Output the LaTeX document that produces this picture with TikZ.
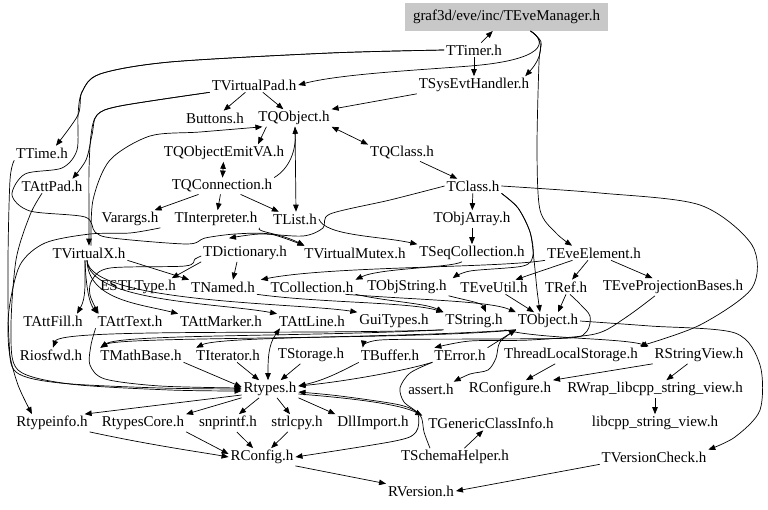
\documentclass[tikz,border=0pt]{standalone}
\usepackage{fontspec}
\setmainfont{Liberation Serif}
\usetikzlibrary{arrows.meta}
\newcommand\nodefont{\fontsize{15}{18}\selectfont}
\definecolor{rootgray}{RGB}{200,200,200}
\begin{document}
\begin{tikzpicture}[x=1pt,y=-1pt,
  n/.style={inner sep=2pt, outer sep=0pt, font=\nodefont},
  e/.style={draw, line width=0.7pt, -{Triangle[length=7pt,width=5.5pt]}},
  ee/.style={draw, line width=0.7pt, {Triangle[length=7pt,width=5.5pt]}-{Triangle[length=7pt,width=5.5pt]}}]
\fill[white] (0,0) rectangle (768,509);
\useasboundingbox (0,0) rectangle (768,509);
% nodes
\node[n, fill=rootgray, minimum width=203pt, minimum height=28pt] (root) at (506.5,17) {graf3d/eve/inc/TEveManager.h};
\coordinate (rs) at ([xshift=24pt]root.south);
\node[n] (TTimer) at (474,50) {TTimer.h};
\node[n] (TVirtualPad) at (254,85) {TVirtualPad.h};
\node[n] (TSys) at (474,85) {TSysEvtHandler.h};
\node[n] (Buttons) at (215,118) {Buttons.h};
\node[n] (TQObject) at (294,118) {TQObject.h};
\node[n] (TTime) at (42,153) {TTime.h};
\node[n] (EmitVA) at (224,153) {TQObjectEmitVA.h};
\node[n] (TQClass) at (402,153) {TQClass.h};
\node[n] (TAttPad) at (52,186) {TAttPad.h};
\node[n] (TQConn) at (222,186) {TQConnection.h};
\node[n] (TClass) at (473,186) {TClass.h};
\node[n] (Varargs) at (130,219) {Varargs.h};
\node[n] (TInterp) at (216,219) {TInterpreter.h};
\node[n] (TList) at (295,219) {TList.h};
\node[n] (TObjArray) at (472,219) {TObjArray.h};
\node[n] (TVirtualX) at (89,253) {TVirtualX.h};
\node[n] (TDict) at (245,253) {TDictionary.h};
\node[n] (TMutex) at (355,253) {TVirtualMutex.h};
\node[n] (TSeqColl) at (472,253) {TSeqCollection.h};
\node[n] (TEveEl) at (594,253) {TEveElement.h};
\node[n] (ESTL) at (138,287) {ESTLType.h};
\node[n] (TNamed) at (223,287) {TNamed.h};
\node[n] (TColl) at (312,287) {TCollection.h};
\node[n] (TObjStr) at (407,287) {TObjString.h};
\node[n] (TEveUtil) at (494,287) {TEveUtil.h};
\node[n] (TRef) at (566,287) {TRef.h};
\node[n] (TEveProj) at (673,287) {TEveProjectionBases.h};
\node[n] (TAttFill) at (53,321) {TAttFill.h};
\node[n] (TAttText) at (130,321) {TAttText.h};
\node[n] (TAttMarker) at (221,321) {TAttMarker.h};
\node[n] (TAttLine) at (312,321) {TAttLine.h};
\node[n] (GuiTypes) at (394,321) {GuiTypes.h};
\node[n] (TString) at (474,321) {TString.h};
\node[n] (TObject) at (548,321) {TObject.h};
\node[n] (Riosfwd) at (51,355) {Riosfwd.h};
\node[n] (TMathBase) at (141,355) {TMathBase.h};
\node[n] (TIter) at (228,355) {TIterator.h};
\node[n] (TStorage) at (311,355) {TStorage.h};
\node[n] (TBuffer) at (390,355) {TBuffer.h};
\node[n] (TError) at (460,355) {TError.h};
\node[n] (TLS) at (571,355) {ThreadLocalStorage.h};
\node[n] (RSV) at (699,355) {RStringView.h};
\node[n] (Rtypes) at (270,389) {Rtypes.h};
\node[n] (assert) at (431,389) {assert.h};
\node[n] (RConfigure) at (510,389) {RConfigure.h};
\node[n] (RWrap) at (655,389) {RWrap\_libcpp\_string\_view.h};
\node[n] (Rtypeinfo) at (52,423) {Rtypeinfo.h};
\node[n] (RtypesCore) at (143,423) {RtypesCore.h};
\node[n] (snprintf) at (228,423) {snprintf.h};
\node[n] (strlcpy) at (297,423) {strlcpy.h};
\node[n] (DllImport) at (373,423) {DllImport.h};
\node[n] (TGCI) at (491,423) {TGenericClassInfo.h};
\node[n] (libcpp) at (655,423) {libcpp\_string\_view.h};
\node[n] (RConfig) at (262,457) {RConfig.h};
\node[n] (TSchema) at (455,457) {TSchemaHelper.h};
\node[n] (TVC) at (654,457) {TVersionCheck.h};
\node[n] (RVersion) at (421,491) {RVersion.h};
% top edges
\draw[e] (TTimer) -- (root);
\draw[e] (rs) .. controls (546,40) and (542,58) .. ([xshift=-6pt]TSys.north east);
\draw[e] (rs) .. controls (548,42) and (545,60) .. (470,66) .. controls (420,70) and (340,74) .. (TVirtualPad.east);
\draw[e] (TTimer) -- (TSys);
\draw[e] plot[smooth] coordinates {(TTimer.west) (330,53) (170,62) (100,74) (82,92) (78,115) ([xshift=14pt]TTime.north)};
\draw[e] plot[smooth] coordinates {(TTimer.west) (330,53) (170,62) (100,74) (82,92) (78,115) (77,150) (62,168) (25,174) (12,195) (30,211) (85,217) (95,232) (112,238) (187,244) (205,238) (235,234) (270,234) ([xshift=2pt]TMutex.north west)};
\draw[e] (TVirtualPad) -- (Buttons);
\draw[e] (TVirtualPad) -- (TQObject);
\draw[e] (TSys.south west) -- (TQObject.north east);
\draw[e] plot[smooth] coordinates {(TVirtualPad.south west) (120,106) (97,115) (92,135) (86,160) ([xshift=-12pt]TAttPad.north east)};
\draw[e] plot[smooth] coordinates {(TVirtualPad.south west) (120,106) (97,115) (91,135) (89,170) (89,215) (TVirtualX.north)};
\draw[e] plot[smooth] coordinates {([xshift=2pt]TVirtualX.north) (93,200) (110,160) (150,136) (200,132) ([xshift=6pt]TQObject.south west)};
\draw[e] ([xshift=10pt]TQObject.south west) -- ([xshift=-28pt]EmitVA.north east);
\draw[ee] (TQObject.south east) -- (TQClass.north west);
\draw[e] (TQConn.north east) .. controls (290,168) and (296,150) .. ([xshift=1pt]TQObject.south);
\draw[e] ([xshift=1pt]TQObject.south) -- ([xshift=1pt]TList.north);
\draw[ee] (EmitVA) -- (TQConn);
\draw[e] (TQConn) -- (Varargs);
\draw[e] (TQConn) -- (TInterp);
\draw[e] (TQConn) -- (TList);
\draw[e] (TQClass) -- (TClass);
\draw[e] (TClass) -- (TObjArray);
\draw[e] (TObjArray) -- (TSeqColl);
\draw[e] plot[smooth] coordinates {(rs) (541,42) (539,62) (537,150) (540,210) (556,233) ([xshift=-22pt]TEveEl.north)};
\draw[e] plot[smooth] coordinates {(TClass.west) (390,200) (330,214) (323,228) (303,236) (260,234) ([xshift=-16pt,yshift=6pt]TDict.north)};
\draw[e] (TInterp.south east) .. controls (255,232) and (280,233) .. ([xshift=2pt]TMutex.north west);
\draw[e] (TList.east) .. controls (325,236) and (380,236) .. (TSeqColl.north west);
% row 253 -> 287
\draw[e] plot[smooth] coordinates {([yshift=-3pt]TDict.west) (195,259) (185,266) (110,268) (92,280) (90,295) ([xshift=3pt]TAttText.north west)};
\draw[e] (TVirtualX.south east) -- (TNamed.north west);
\draw[e] (TDict.south west) -- ([xshift=-6pt]ESTL.north east);
\draw[e] ([xshift=-8pt]TDict.south) -- ([xshift=10pt]TNamed.north);
\draw[e] ([xshift=-10pt]TSeqColl.south) .. controls (450,268) and (380,268) .. (TColl.north east);
\draw[e] (TEveEl.south west) .. controls (500,268) and (330,266) .. ([xshift=4pt]TNamed.north east);
\draw[e] plot[smooth] coordinates {(TClass.south east) (518,208) (530,232) (533,255) (523,266) (470,271) ([xshift=4pt]TObjStr.north east)};
\draw[e] plot[smooth] coordinates {(TClass.south east) (518,208) (530,232) (534,260) (537,290) ([xshift=-8pt]TObject.north)};
\draw[e] (TEveEl) -- (TEveUtil);
\draw[e] (TEveEl) -- (TRef);
\draw[e] (TEveEl) -- (TEveProj);
% row 287 -> 321
\draw[e] ([xshift=-4pt]TVirtualX.south) .. controls (85,285) and (86,298) .. ([xshift=24pt]TAttFill.north);
\draw[e] ([xshift=-4pt]TVirtualX.south) .. controls (86,290) and (90,304) .. ([xshift=2pt]TAttText.north west);
\draw[e] ([xshift=-2pt]TVirtualX.south) .. controls (88,300) and (140,304) .. (TAttMarker.north west);
\draw[e] ([xshift=-2pt]TVirtualX.south) .. controls (89,302) and (220,303) .. (TAttLine.north west);
\draw[e] ([xshift=-2pt]TVirtualX.south) .. controls (90,303) and (300,303) .. (GuiTypes.north west);
\draw[e] (TNamed.south east) .. controls (320,303) and (410,302) .. (TString.north west);
\draw[e] (TColl.south east) .. controls (390,302) and (425,303) .. (TString.north west);
\draw[e] (TObjStr.south east) .. controls (465,300) and (482,303) .. ([xshift=12pt]TString.north);
\draw[e] ([xshift=-10pt]TColl.south east) .. controls (420,300) and (490,301) .. (TObject.north west);
\draw[e] (TEveUtil) -- (TObject);
\draw[e] (TRef.south) -- ([xshift=10pt]TObject.north);
% row 321 -> 355
\draw[e] plot[smooth] coordinates {([xshift=4pt]TRef.south) (580,304) (590,316) (587,331) (570,338) (480,339) (380,340) ([xshift=4pt]TBuffer.north west)};
\draw[e] plot[smooth] coordinates {([xshift=-18pt]TEveProj.south) (625,318) (595,334) (530,340) (470,341) ([xshift=2pt]TError.north west)};
\draw[e] (TString.south west) .. controls (300,335) and (60,328) .. ([xshift=2pt]Riosfwd.north);
\draw[e] (TString.south west) .. controls (300,337) and (120,334) .. ([xshift=2pt]TMathBase.north west);
\draw[e] (TObject.south west) .. controls (420,340) and (120,336) .. ([xshift=2pt]TMathBase.north west);
\draw[e] (TObject.south west) .. controls (400,338) and (220,336) .. ([xshift=2pt]TIter.north west);
\draw[ee] ([xshift=-32pt]TAttLine.south) .. controls (268,345) and (268,360) .. ([xshift=-2pt]Rtypes.north);
\draw[e] (TError.north east) -- (TObject.south west);
\draw[e] plot[smooth] coordinates {(TObject.south west) (500,342) (496,358) (488,370) (470,374) ([xshift=-2pt]assert.north east)};
\draw[e] (TString.south east) .. controls (540,339) and (620,338) .. ([xshift=-4pt]RSV.north west);
\draw[e] plot[smooth] coordinates {(TClass.east) (600,193) (700,205) (752,245) (752,288) (700,325) (TLS.north east)};
\draw[e] plot[smooth] coordinates {(TObject.east) (650,326) (735,333) (760,365) (760,410) (735,437) (TVC.north east)};
% into Rtypes
\draw[e] (TMathBase.south east) -- ([yshift=2pt]Rtypes.west);
\draw[e] (TIter) -- (Rtypes);
\draw[e] (TStorage) -- (Rtypes);
\draw[e] (TBuffer.south west) .. controls (340,372) and (325,380) .. ([yshift=3pt]Rtypes.east);
\draw[e] (TError.south west) .. controls (400,372) and (340,382) .. ([yshift=3pt]Rtypes.east);
\draw[e] plot[smooth] coordinates {([xshift=-25pt]TSchema.north) (424,432) (420,415) (400,405) (340,396) ([yshift=-3pt]Rtypes.east)};
\draw[e] ([yshift=-5pt]Rtypes.east) .. controls (350,398) and (400,404) .. ([xshift=-4pt]TGCI.north west);
\draw[e] plot[smooth] coordinates {(TError.south west) (410,373) (400,388) (404,402) (418,414) (416,432) (395,441) (RConfig.east)};
\draw[e] plot[smooth] coordinates {(TTime.south west) (10,180) (8,260) (9,340) (16,372) (60,383) (160,388) (Rtypes.west)};
\draw[e] plot[smooth] coordinates {([xshift=-10pt]TAttPad.south) (30,215) (16,260) (11,330) (18,370) (70,384) (170,390) ([yshift=-2pt]Rtypes.west)};
\draw[e] plot[smooth] coordinates {(TAttText.south west) (91,345) (90,365) (105,379) (160,386) ([yshift=1pt]Rtypes.west)};
\draw[e] plot[smooth] coordinates {(Varargs.south east) (130,233) (90,234) (45,243) (20,265) (9,310) (9,350) (18,385) ([xshift=-20pt]Rtypeinfo.north)};
% out of Rtypes
\draw[e] ([yshift=-6pt]Rtypes.west) -- ([xshift=-5pt]Rtypeinfo.north east);
\draw[e] (Rtypes.south west) -- (RtypesCore.north east);
\draw[e] (Rtypes) -- (snprintf);
\draw[e] (Rtypes) -- (strlcpy);
\draw[e] (Rtypes.south east) -- (DllImport.north west);
% into RConfig / RVersion
\draw[e] (Rtypeinfo.south east) .. controls (150,445) and (200,452) .. (RConfig.west);
\draw[e] (RtypesCore.south east) -- ([yshift=3pt]RConfig.west);
\draw[e] (snprintf) -- (RConfig);
\draw[e] (strlcpy) -- (RConfig);
\draw[e] (RConfig.south east) -- (RVersion.north west);
\draw[e] (TVC.south west) -- (RVersion.east);
% right bottom
\draw[e] (TLS) -- (RConfigure);
\draw[e] (RSV.south west) -- (RConfigure.north east);
\draw[e] (RSV) -- (RWrap);
\draw[e] (RWrap) -- (libcpp);
\draw[e] (TSchema) -- (TGCI);
\end{tikzpicture}
\end{document}
